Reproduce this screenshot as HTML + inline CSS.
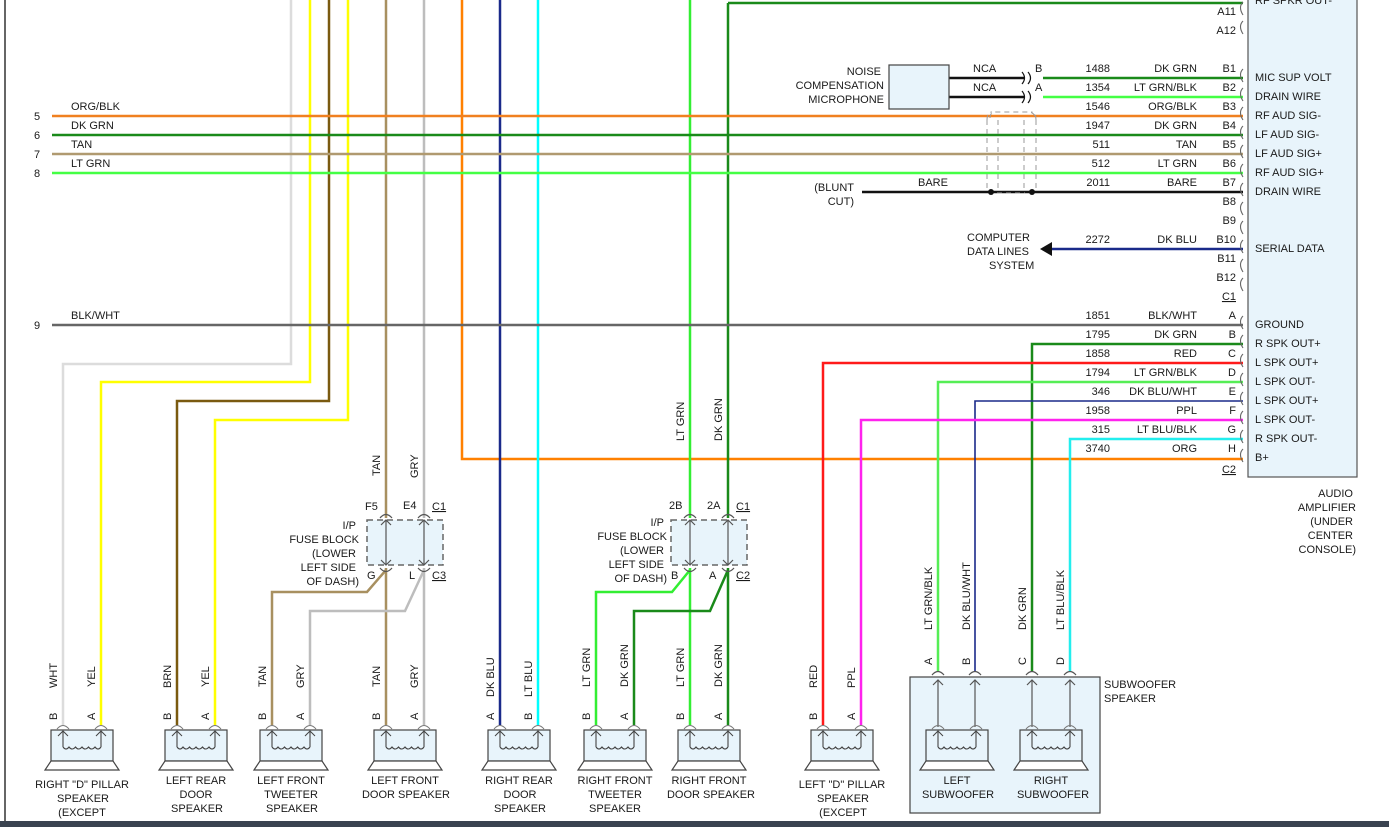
<!DOCTYPE html>
<html><head><meta charset="utf-8"><style>
html,body{margin:0;padding:0;background:#fff;}
svg{display:block;}
text{font-family:"Liberation Sans",sans-serif;font-size:11px;fill:#1a1a1a;}
</style></head><body>
<svg width="1389" height="827" viewBox="0 0 1389 827" xmlns="http://www.w3.org/2000/svg">
<defs>
<g id="spk">
 <rect x="-12" y="730" width="62" height="31" fill="#e8f4fb" stroke="#444" stroke-width="1.2"/>
 <polygon points="-12,761 50,761 56,770 -18,770" fill="#fff" stroke="#444" stroke-width="1.2"/>
 <path d="M0,731 V747 M38,731 V747 M0,747 q3,4 6,0 q3,4 6.5,0 q3,4 6.5,0 q3,4 6.5,0 q3,4 6.5,0 q3,4 6,0" fill="none" stroke="#444" stroke-width="1.1"/>
 <path d="M-5,736 L0,731 L5,736 M33,736 L38,731 L43,736" fill="none" stroke="#444" stroke-width="1"/>
 <path d="M-6,729 q6,-7 12,0 M32,729 q6,-7 12,0" fill="none" stroke="#777" stroke-width="1"/>
</g>
<g id="cn"><path d="M4,-9 q-5,5 0,13" fill="none" stroke="#666" stroke-width="1.1"/></g>
</defs>

<line x1="5" y1="0" x2="5" y2="822" stroke="#333" stroke-width="1.5"/>
<rect x="0" y="821" width="1389" height="6" fill="#3a4350"/>

<rect x="1248" y="-2" width="109" height="479" fill="#e8f4fb" stroke="#555" stroke-width="1.2"/>

<g fill="none" stroke-width="2.5">
 <path d="M291,0 V364 H63 V725" stroke="#dcdcdc"/>
 <path d="M310,0 V382 H101 V725" stroke="#ffff00"/>
 <path d="M329,0 V401 H177 V725" stroke="#7a5a10"/>
 <path d="M348,0 V420 H215 V725" stroke="#ffff00"/>
 <path d="M386,0 V518" stroke="#a89060"/>
 <path d="M424,0 V518" stroke="#bdbdbd"/>
 <path d="M386,568 V725" stroke="#a89060"/>
 <path d="M424,568 V725" stroke="#bdbdbd"/>
 <path d="M386,570 L367,592 H272 V725" stroke="#a89060"/>
 <path d="M424,570 L405,611 H310 V725" stroke="#bdbdbd"/>
 <path d="M462,0 V459 H1243" stroke="#ff8000"/>
 <path d="M500,0 V725" stroke="#1a2a8a"/>
 <path d="M538,0 V725" stroke="#00ffff"/>
 <path d="M690,0 V518" stroke="#33ee33"/>
 <path d="M728,3 H1243 M728,3 V518" stroke="#1a8a1a"/>
 <path d="M690,568 V725" stroke="#33ee33"/>
 <path d="M728,568 V725" stroke="#1a8a1a"/>
 <path d="M690,570 L672,592 H596 V725" stroke="#33ee33"/>
 <path d="M728,570 L710,611 H634 V725" stroke="#1a8a1a"/>
 <path d="M52,116 H1243" stroke="#f08020"/>
 <path d="M52,135 H1243" stroke="#1a8a1a"/>
 <path d="M52,154 H1243" stroke="#b09a70"/>
 <path d="M52,173 H1243" stroke="#44ff44"/>
 <path d="M52,325 H1243" stroke="#666"/>
 <path d="M1243,344 H1032 V672" stroke="#1a8a1a"/>
 <path d="M1243,363 H823 V725" stroke="#ff1a1a"/>
 <path d="M1243,382 H938 V672" stroke="#55ee55"/>
 <path d="M1243,401 H975 V672" stroke="#1a2a8a" stroke-width="1.6"/>
 <path d="M1243,420 H861 V725" stroke="#ff22ee"/>
 <path d="M1243,439 H1070 V672" stroke="#22eeee"/>
 <path d="M949,78 H1025 M949,97 H1025" stroke="#111"/>
 <path d="M1043,78 H1243" stroke="#1a8a1a"/>
 <path d="M1043,97 H1243" stroke="#44ff44"/>
 <path d="M862,192 H1243" stroke="#111"/>
 <path d="M1050,249 H1243" stroke="#1a2a8a"/>
</g>
<polygon points="1040,249 1052,242 1052,256" fill="#111"/>
<circle cx="991" cy="192" r="3" fill="#111"/><circle cx="1032" cy="192" r="3" fill="#111"/>
<g fill="none" stroke="#999" stroke-dasharray="5,4" stroke-width="1">
 <path d="M990,118 q0,-6 6,-6 h32 q6,0 8,6 M987,120 V190 M998,120 V190 M1024,120 V190 M1036,120 V190 M997,193 H1025"/>
 <path d="M987,120 q0,-8 5,-8 M1036,120 q0,-8 -5,-8"/>
</g>
<path d="M1022,72 q5,6 0,12 M1028,72 q5,6 0,12 M1022,91 q5,6 0,12 M1028,91 q5,6 0,12" fill="none" stroke="#111" stroke-width="1.2"/>
<rect x="889" y="65" width="60" height="44" fill="#e8f4fb" stroke="#444" stroke-width="1.2"/>

<g transform="translate(1239,0)">
<use href="#cn" y="11"/><use href="#cn" y="30"/>
<use href="#cn" y="78"/><use href="#cn" y="97"/><use href="#cn" y="116"/><use href="#cn" y="135"/><use href="#cn" y="154"/><use href="#cn" y="173"/><use href="#cn" y="192"/><use href="#cn" y="211"/><use href="#cn" y="230"/><use href="#cn" y="249"/><use href="#cn" y="268"/><use href="#cn" y="287"/>
<use href="#cn" y="325"/><use href="#cn" y="344"/><use href="#cn" y="363"/><use href="#cn" y="382"/><use href="#cn" y="401"/><use href="#cn" y="420"/><use href="#cn" y="439"/><use href="#cn" y="458"/>
</g>

<g fill="#e8f4fb" stroke="#666" stroke-width="1.5" stroke-dasharray="6,4">
 <rect x="367" y="520" width="76" height="45"/>
 <rect x="671" y="520" width="76" height="45"/>
</g>
<g fill="none" stroke="#555" stroke-width="1.2">
 <path d="M386,520 V565 M381,525 L386,520 L391,525 M381,560 L386,565 L391,560 M424,520 V565 M419,525 L424,520 L429,525 M419,560 L424,565 L429,560"/>
 <path d="M690,520 V565 M685,525 L690,520 L695,525 M685,560 L690,565 L695,560 M728,520 V565 M723,525 L728,520 L733,525 M723,560 L728,565 L733,560"/>
 <path d="M380,518 q6,-7 12,0 M418,518 q6,-7 12,0 M380,568 q6,7 12,0 M418,568 q6,7 12,0"/>
 <path d="M684,518 q6,-7 12,0 M722,518 q6,-7 12,0 M684,568 q6,7 12,0 M722,568 q6,7 12,0"/>
</g>

<use href="#spk" x="63"/><use href="#spk" x="177"/><use href="#spk" x="272"/><use href="#spk" x="386"/>
<use href="#spk" x="500"/><use href="#spk" x="596"/><use href="#spk" x="690"/><use href="#spk" x="823"/>
<rect x="910" y="677" width="190" height="136" fill="#e8f4fb" stroke="#444" stroke-width="1.2"/>
<g fill="none" stroke="#555" stroke-width="1.2">
 <path d="M938,680 V727 M975,680 V727 M1032,680 V727 M1070,680 V727"/>
 <path d="M933,685 L938,680 L943,685 M970,685 L975,680 L980,685 M1027,685 L1032,680 L1037,685 M1065,685 L1070,680 L1075,685"/>
 <path d="M932,675 q6,-7 12,0 M969,675 q6,-7 12,0 M1026,675 q6,-7 12,0 M1064,675 q6,-7 12,0"/>
</g>
<use href="#spk" x="938"/><use href="#spk" x="1032"/>

<text x="34" y="120">5</text><text x="34" y="139">6</text><text x="34" y="158">7</text><text x="34" y="177">8</text><text x="34" y="329">9</text>
<text x="71" y="110">ORG/BLK</text><text x="71" y="129">DK GRN</text><text x="71" y="148">TAN</text><text x="71" y="167">LT GRN</text><text x="71" y="319">BLK/WHT</text>

<g text-anchor="end">
<text x="881" y="75">NOISE</text><text x="884" y="89">COMPENSATION</text><text x="884" y="103">MICROPHONE</text>
<text x="854" y="191">(BLUNT</text><text x="854" y="205">CUT)</text>
</g>
<text x="973" y="72">NCA</text><text x="973" y="91">NCA</text>
<text x="1035" y="72">B</text><text x="1035" y="91">A</text>
<text x="918" y="186">BARE</text>
<text x="967" y="241">COMPUTER</text><text x="967" y="255">DATA LINES</text><text x="989" y="269">SYSTEM</text>

<g text-anchor="end">
<text x="1110" y="72">1488</text><text x="1110" y="91">1354</text><text x="1110" y="110">1546</text><text x="1110" y="129">1947</text><text x="1110" y="148">511</text><text x="1110" y="167">512</text><text x="1110" y="186">2011</text><text x="1110" y="243">2272</text>
<text x="1197" y="72">DK GRN</text><text x="1197" y="91">LT GRN/BLK</text><text x="1197" y="110">ORG/BLK</text><text x="1197" y="129">DK GRN</text><text x="1197" y="148">TAN</text><text x="1197" y="167">LT GRN</text><text x="1197" y="186">BARE</text><text x="1197" y="243">DK BLU</text>
<text x="1236" y="15">A11</text><text x="1236" y="34">A12</text>
<text x="1236" y="72">B1</text><text x="1236" y="91">B2</text><text x="1236" y="110">B3</text><text x="1236" y="129">B4</text><text x="1236" y="148">B5</text><text x="1236" y="167">B6</text><text x="1236" y="186">B7</text><text x="1236" y="205">B8</text><text x="1236" y="224">B9</text><text x="1236" y="243">B10</text><text x="1236" y="262">B11</text><text x="1236" y="281">B12</text><text x="1236" y="300" text-decoration="underline">C1</text>
<text x="1110" y="319">1851</text><text x="1110" y="338">1795</text><text x="1110" y="357">1858</text><text x="1110" y="376">1794</text><text x="1110" y="395">346</text><text x="1110" y="414">1958</text><text x="1110" y="433">315</text><text x="1110" y="452">3740</text>
<text x="1197" y="319">BLK/WHT</text><text x="1197" y="338">DK GRN</text><text x="1197" y="357">RED</text><text x="1197" y="376">LT GRN/BLK</text><text x="1197" y="395">DK BLU/WHT</text><text x="1197" y="414">PPL</text><text x="1197" y="433">LT BLU/BLK</text><text x="1197" y="452">ORG</text>
<text x="1236" y="319">A</text><text x="1236" y="338">B</text><text x="1236" y="357">C</text><text x="1236" y="376">D</text><text x="1236" y="395">E</text><text x="1236" y="414">F</text><text x="1236" y="433">G</text><text x="1236" y="452">H</text><text x="1236" y="473" text-decoration="underline">C2</text>
</g>
<g>
<text x="1255" y="4">RF SPKR OUT-</text>
<text x="1255" y="81">MIC SUP VOLT</text><text x="1255" y="100">DRAIN WIRE</text><text x="1255" y="119">RF AUD SIG-</text><text x="1255" y="138">LF AUD SIG-</text><text x="1255" y="157">LF AUD SIG+</text><text x="1255" y="176">RF AUD SIG+</text><text x="1255" y="195">DRAIN WIRE</text><text x="1255" y="252">SERIAL DATA</text>
<text x="1255" y="328">GROUND</text><text x="1255" y="347">R SPK OUT+</text><text x="1255" y="366">L SPK OUT+</text><text x="1255" y="385">L SPK OUT-</text><text x="1255" y="404">L SPK OUT+</text><text x="1255" y="423">L SPK OUT-</text><text x="1255" y="442">R SPK OUT-</text><text x="1255" y="461">B+</text>
</g>
<g text-anchor="end">
<text x="1353" y="497">AUDIO</text><text x="1356" y="511">AMPLIFIER</text><text x="1353" y="525">(UNDER</text><text x="1353" y="539">CENTER</text><text x="1356" y="553">CONSOLE)</text>
</g>

<text x="365" y="510">F5</text><text x="403" y="509">E4</text><text x="432" y="510" text-decoration="underline">C1</text>
<text x="367" y="579">G</text><text x="409" y="579">L</text><text x="432" y="579" text-decoration="underline">C3</text>
<g text-anchor="end">
<text x="356" y="529">I/P</text><text x="359" y="543">FUSE BLOCK</text><text x="356" y="557">(LOWER</text><text x="356" y="571">LEFT SIDE</text><text x="359" y="585">OF DASH)</text>
<text x="664" y="526">I/P</text><text x="667" y="540">FUSE BLOCK</text><text x="664" y="554">(LOWER</text><text x="664" y="568">LEFT SIDE</text><text x="667" y="582">OF DASH)</text>
</g>
<text x="669" y="509">2B</text><text x="707" y="509">2A</text><text x="736" y="510" text-decoration="underline">C1</text>
<text x="671" y="579">B</text><text x="709" y="579">A</text><text x="736" y="579" text-decoration="underline">C2</text>

<g>
<text transform="translate(380,476) rotate(-90)">TAN</text>
<text transform="translate(418,478) rotate(-90)">GRY</text>
<text transform="translate(684,441) rotate(-90)">LT GRN</text>
<text transform="translate(722,441) rotate(-90)">DK GRN</text>
<text transform="translate(57,688) rotate(-90)">WHT</text><text transform="translate(95,687) rotate(-90)">YEL</text>
<text transform="translate(171,688) rotate(-90)">BRN</text><text transform="translate(209,687) rotate(-90)">YEL</text>
<text transform="translate(266,687) rotate(-90)">TAN</text><text transform="translate(304,688) rotate(-90)">GRY</text>
<text transform="translate(380,687) rotate(-90)">TAN</text><text transform="translate(418,688) rotate(-90)">GRY</text>
<text transform="translate(494,697) rotate(-90)">DK BLU</text><text transform="translate(532,697) rotate(-90)">LT BLU</text>
<text transform="translate(590,687) rotate(-90)">LT GRN</text><text transform="translate(628,687) rotate(-90)">DK GRN</text>
<text transform="translate(684,687) rotate(-90)">LT GRN</text><text transform="translate(722,687) rotate(-90)">DK GRN</text>
<text transform="translate(817,688) rotate(-90)">RED</text><text transform="translate(855,688) rotate(-90)">PPL</text>
<text transform="translate(932,630) rotate(-90)">LT GRN/BLK</text><text transform="translate(970,630) rotate(-90)">DK BLU/WHT</text>
<text transform="translate(1026,630) rotate(-90)">DK GRN</text><text transform="translate(1064,630) rotate(-90)">LT BLU/BLK</text>
<text transform="translate(932,665) rotate(-90)">A</text><text transform="translate(970,665) rotate(-90)">B</text><text transform="translate(1026,665) rotate(-90)">C</text><text transform="translate(1064,665) rotate(-90)">D</text>
<text transform="translate(57,720) rotate(-90)">B</text><text transform="translate(95,720) rotate(-90)">A</text>
<text transform="translate(171,720) rotate(-90)">B</text><text transform="translate(209,720) rotate(-90)">A</text>
<text transform="translate(266,720) rotate(-90)">B</text><text transform="translate(304,720) rotate(-90)">A</text>
<text transform="translate(380,720) rotate(-90)">B</text><text transform="translate(418,720) rotate(-90)">A</text>
<text transform="translate(494,720) rotate(-90)">A</text><text transform="translate(532,720) rotate(-90)">B</text>
<text transform="translate(590,720) rotate(-90)">B</text><text transform="translate(628,720) rotate(-90)">A</text>
<text transform="translate(684,720) rotate(-90)">B</text><text transform="translate(722,720) rotate(-90)">A</text>
<text transform="translate(817,720) rotate(-90)">B</text><text transform="translate(855,720) rotate(-90)">A</text>
</g>

<g text-anchor="middle">
<text x="82" y="788">RIGHT "D" PILLAR</text><text x="83" y="802">SPEAKER</text><text x="82" y="816">(EXCEPT</text>
<text x="196" y="784">LEFT REAR</text><text x="196" y="798">DOOR</text><text x="197" y="812">SPEAKER</text>
<text x="291" y="784">LEFT FRONT</text><text x="291" y="798">TWEETER</text><text x="292" y="812">SPEAKER</text>
<text x="405" y="784">LEFT FRONT</text><text x="406" y="798">DOOR SPEAKER</text>
<text x="519" y="784">RIGHT REAR</text><text x="520" y="798">DOOR</text><text x="520" y="812">SPEAKER</text>
<text x="615" y="784">RIGHT FRONT</text><text x="615" y="798">TWEETER</text><text x="615" y="812">SPEAKER</text>
<text x="709" y="784">RIGHT FRONT</text><text x="711" y="798">DOOR SPEAKER</text>
<text x="842" y="788">LEFT "D" PILLAR</text><text x="843" y="802">SPEAKER</text><text x="843" y="816">(EXCEPT</text>
<text x="957" y="784">LEFT</text><text x="958" y="798">SUBWOOFER</text>
<text x="1051" y="784">RIGHT</text><text x="1053" y="798">SUBWOOFER</text>
</g>
<text x="1104" y="688">SUBWOOFER</text><text x="1104" y="702">SPEAKER</text>
</svg>
</body></html>
